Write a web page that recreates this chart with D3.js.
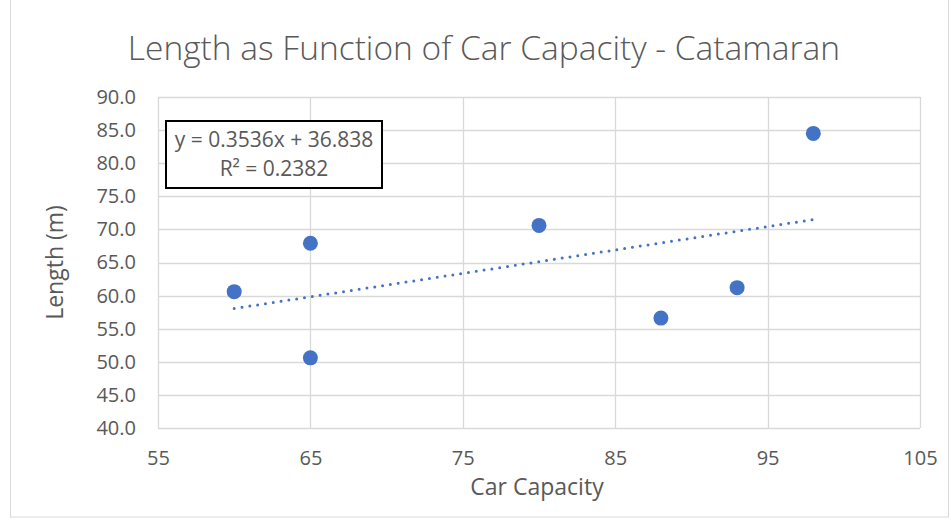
<!DOCTYPE html>
<html>
<head>
<meta charset="utf-8">
<script src="https://cdn.jsdelivr.net/npm/d3@7"></script>
<style>
  body { margin: 0; background: #fff; }
  svg { display: block; font-family: "Open Sans", "Noto Sans", sans-serif; }
</style>
</head>
<body>
<svg id="chart" width="950" height="519"></svg>
<script>
// ----------- Data ------------------------------------
const carCapacity = [60, 65, 65, 80, 88, 93, 98];
const lengthM     = [60.6, 67.9, 50.6, 70.6, 56.6, 61.2, 84.5];
const xTicks = [55, 65, 75, 85, 95, 105];
const yTicks = [40, 45, 50, 55, 60, 65, 70, 75, 80, 85, 90];
const trendSlope = 0.3536;
const trendIntercept = 36.838;
const trendRange = [60, 98];
const equationLines = ["y = 0.3536x + 36.838", "R\u00b2 = 0.2382"];

const W = 950, H = 519;
const margin = { left: 158, right: 30, top: 97, bottom: 91 };
const svg = d3.select("#chart");
const textColor = "#595959";
const gridColor = "#d9d9d9";
const blue = "#4472C4";

// outer chart frame
svg.append("rect")
  .attr("x", 10.5).attr("y", -1)
  .attr("width", W - 12).attr("height", H - 1)
  .attr("fill", "#fff").attr("stroke", gridColor);

const x = d3.scaleLinear().domain([55, 105]).range([margin.left, W - margin.right]);
const y = d3.scaleLinear().domain([40, 90]).range([H - margin.bottom, margin.top]);

// ----------- Gridlines ------------
svg.append("g").selectAll("line").data(yTicks).join("line")
  .attr("x1", x(55)).attr("x2", x(105))
  .attr("y1", d => Math.round(y(d)) + 0.5).attr("y2", d => Math.round(y(d)) + 0.5)
  .attr("stroke", gridColor).attr("stroke-width", 1.3);

svg.append("g").selectAll("line").data(xTicks).join("line")
  .attr("y1", y(40)).attr("y2", y(90))
  .attr("x1", d => Math.round(x(d)) + 0.5).attr("x2", d => Math.round(x(d)) + 0.5)
  .attr("stroke", gridColor).attr("stroke-width", 1.3);

// ----------- Axes (labels only) ------------
const xAxis = svg.append("g")
  .attr("transform", `translate(0,${y(40)})`)
  .call(d3.axisBottom(x).tickValues(xTicks).tickSize(0).tickPadding(23));
const yAxis = svg.append("g")
  .attr("transform", `translate(${x(55)},0)`)
  .call(d3.axisLeft(y).tickValues(yTicks).tickSize(0).tickPadding(22).tickFormat(d3.format(".1f")));
[xAxis, yAxis].forEach(a => {
  a.select(".domain").remove();
  a.selectAll("text")
    .attr("fill", textColor)
    .style("font-size", "20px")
    .style("font-family", "'Open Sans', sans-serif");
});

// ----------- Trendline (dotted) ------------
svg.append("line")
  .attr("x1", x(trendRange[0])).attr("y1", y(trendSlope * trendRange[0] + trendIntercept))
  .attr("x2", x(trendRange[1])).attr("y2", y(trendSlope * trendRange[1] + trendIntercept))
  .attr("stroke", blue).attr("stroke-width", 3)
  .attr("stroke-linecap", "round")
  .attr("stroke-dasharray", "0,7.9");

// ----------- Points ------------
svg.append("g").selectAll("circle").data(carCapacity).join("circle")
  .attr("cx", d => x(d))
  .attr("cy", (d, i) => y(lengthM[i]))
  .attr("r", 7.5)
  .attr("fill", blue);

// ----------- Equation box ------------
const box = svg.append("g").attr("transform", "translate(166,121)");
box.append("rect")
  .attr("width", 216).attr("height", 67)
  .attr("fill", "#fff").attr("stroke", "#000").attr("stroke-width", 2);
box.selectAll("text").data(equationLines).join("text")
  .attr("x", 108).attr("y", (d, i) => 26 + i * 29)
  .attr("text-anchor", "middle")
  .attr("fill", textColor)
  .style("font-size", "21px")
  .text(d => d);

// ----------- Titles ------------
svg.append("text")
  .attr("x", 484).attr("y", 60)
  .attr("text-anchor", "middle")
  .attr("fill", textColor)
  .style("font-size", "33.5px")
  .style("font-weight", 300)
  .text("Length as Function of Car Capacity - Catamaran");

svg.append("text")
  .attr("x", 537).attr("y", 495)
  .attr("text-anchor", "middle")
  .attr("fill", textColor)
  .style("font-size", "23px")
  .text("Car Capacity");

svg.append("text")
  .attr("transform", `translate(63,${y(65)}) rotate(-90)`)
  .attr("text-anchor", "middle")
  .attr("fill", textColor)
  .style("font-size", "23px")
  .text("Length (m)");
</script>
</body>
</html>
